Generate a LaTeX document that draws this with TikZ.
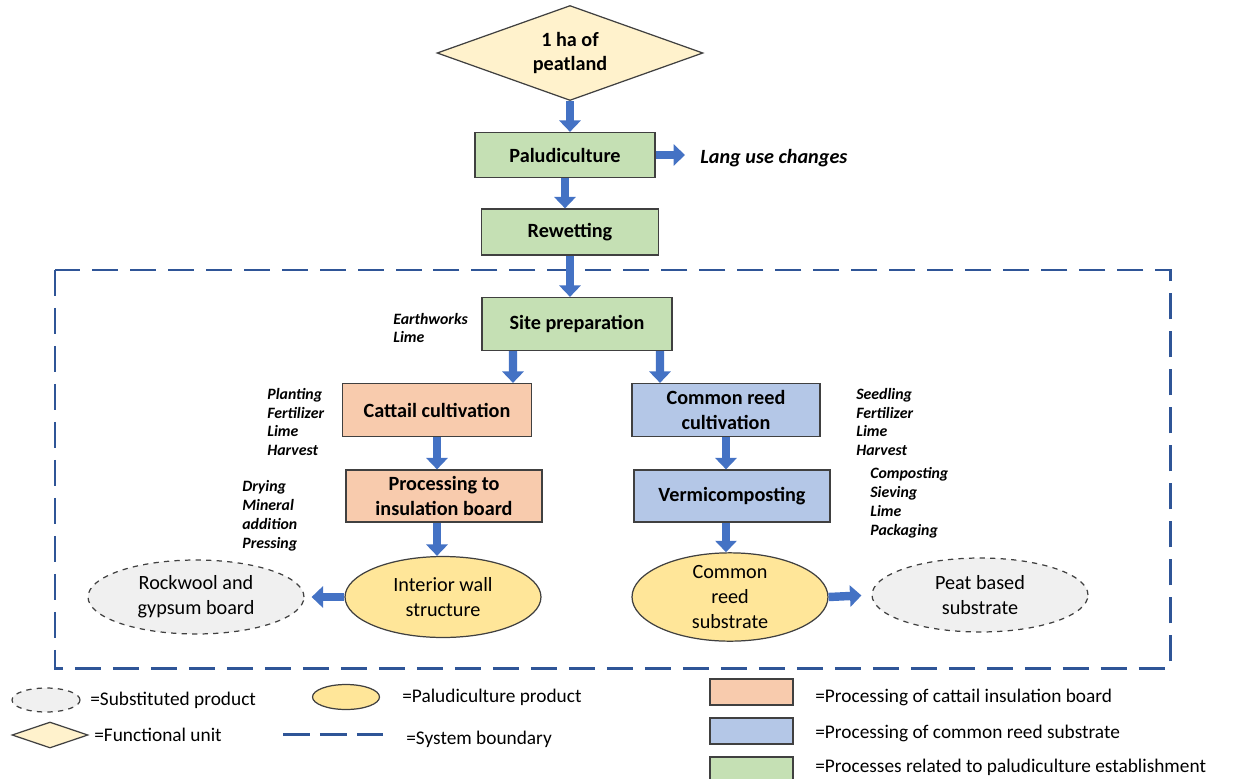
\documentclass[tikz,border=0pt]{standalone}
\usepackage{fontspec}
\setmainfont{Carlito}
\usetikzlibrary{shapes.geometric,arrows.meta}
\definecolor{palugreen}{HTML}{C5E0B4}
\definecolor{cattailorange}{HTML}{F8CBAD}
\definecolor{reedblue}{HTML}{B4C7E7}
\definecolor{prodyellow}{HTML}{FFE699}
\definecolor{unityellow}{HTML}{FFF2CC}
\definecolor{subgray}{HTML}{F0F0F0}
\definecolor{arrowblue}{HTML}{4472C4}
\definecolor{boundblue}{HTML}{2F5597}
\definecolor{edgegray}{HTML}{404040}
\begin{document}
\begin{tikzpicture}[x=0.02cm, y=-0.02cm,
  box node/.style={rectangle,draw=edgegray,line width=0.7pt,align=center,inner sep=0pt,font=\fontsize{11.5}{14}\selectfont\bfseries},
  prod node/.style={ellipse,draw=edgegray,line width=0.7pt,fill=prodyellow,align=center,inner sep=0pt,font=\fontsize{11.5}{14}\selectfont},
  sub node/.style={ellipse,draw=edgegray,line width=0.7pt,dashed,fill=subgray,align=center,inner sep=0pt,font=\fontsize{11.5}{14}\selectfont},
  side note/.style={anchor=west,align=left,inner sep=0pt,font=\fontsize{9}{10.8}\selectfont\bfseries\itshape},
  legend text/.style={anchor=west,inner sep=0pt,font=\fontsize{11}{13}\selectfont},
  flow/.style={draw=arrowblue,line width=4.8pt,-{Triangle[length=6.5pt,width=12pt]}},
  boundary/.style={draw=boundblue,line width=1.7pt,dash pattern=on 0.52cm off 0.24cm}]
\useasboundingbox (0,0) rectangle (1238,778);
% system boundary
\draw[boundary] (55,270) rectangle (1170,668);
\begin{scope}
\node[diamond,aspect=2.8,draw=edgegray,line width=0.7pt,fill=unityellow,minimum width=5.32cm,minimum height=1.9cm,inner sep=0pt,align=center,font=\fontsize{11.5}{14}\selectfont\bfseries] (unit) at (570,53) {1 ha of\\peatland};
\node[box node,fill=palugreen,minimum width=3.6cm,minimum height=0.9cm] (palu) at (565,155) {Paludiculture};
\node[anchor=west,inner sep=0pt,font=\fontsize{11.5}{14}\selectfont\bfseries\itshape] (landuse) at (700,158) {Lang use changes};
\node[box node,fill=palugreen,minimum width=3.54cm,minimum height=0.92cm] (rewet) at (570,232) {Rewetting};
\node[box node,fill=palugreen,minimum width=3.8cm,minimum height=1.06cm] (site) at (577,324) {Site preparation};
\node[box node,fill=cattailorange,minimum width=3.78cm,minimum height=1.06cm] (cattail) at (437,410) {Cattail cultivation};
\node[box node,fill=reedblue,minimum width=3.76cm,minimum height=1.06cm] (reed) at (726,410) {Common reed\\cultivation};
\node[box node,fill=cattailorange,minimum width=3.92cm,minimum height=1.04cm] (board) at (444,496) {Processing to\\insulation board};
\node[box node,fill=reedblue,minimum width=3.92cm,minimum height=1.04cm] (vermi) at (732,496) {Vermicomposting};
\node[prod node,minimum width=3.92cm,minimum height=1.62cm] (wall) at (443,597) {Interior wall\\structure};
\node[sub node,minimum width=4.32cm,minimum height=1.48cm] (rock) at (196,597) {Rockwool and\\gypsum board};
\node[prod node,minimum width=3.92cm,minimum height=1.64cm] (substrate) at (730,597) {Common\\reed\\substrate};
\node[sub node,minimum width=4.32cm,minimum height=1.48cm] (peat) at (980,595) {Peat based\\substrate};
\end{scope}
\begin{scope}
\node[side note] (siteinput) at (393,328) {Earthworks\\Lime};
\node[side note] (cattailinput) at (267,422) {Planting\\Fertilizer\\Lime\\Harvest};
\node[side note] (boardinput) at (242,516) {Drying\\Mineral\\addition\\Pressing};
\node[side note] (reedinput) at (856,422) {Seedling\\Fertilizer\\Lime\\Harvest};
\node[side note] (verminput) at (870,503) {Composting\\Sieving\\Lime\\Packaging};
\end{scope}
\begin{scope}
\draw[flow] (unit.south) -- (unit.south |- palu.north);
\draw[flow,shorten >=0.3cm] (palu.east) -- (palu.east -| landuse.west);
\draw[flow] (palu.south) -- (palu.south |- rewet.north);
\draw[flow] (rewet.south) -- (rewet.south |- site.north);
\draw[flow] ([xshift=-1.28cm]site.south) -- ([xshift=1.52cm]cattail.north);
\draw[flow] ([xshift=1.66cm]site.south) -- ([xshift=-1.32cm]reed.north);
\draw[flow] (cattail.south) -- (cattail.south |- board.north);
\draw[flow] (cattail.south |- board.south) -- (cattail.south |- wall.north);
\draw[flow] (reed.south) -- (reed.south |- vermi.north);
\draw[flow] (reed.south |- vermi.south) -- (reed.south |- substrate.north);
\draw[flow,shorten >=0.14cm] (wall.west) -- (rock.east);
\draw[flow,shorten >=0.2cm] (substrate.east) -- (peat.west);
\end{scope}
% legend
\begin{scope}
\node[sub node,minimum width=1.36cm,minimum height=0.48cm] (legsub) at (46,700) {};
\node[legend text] (legsubtext) at (90,700) {=Substituted product};
\node[prod node,minimum width=1.34cm,minimum height=0.5cm] (legprod) at (346,697) {};
\node[legend text] (legprodtext) at (402,697) {=Paludiculture product};
\node[diamond,aspect=2.9,draw=edgegray,line width=0.7pt,fill=unityellow,minimum width=1.52cm,minimum height=0.52cm,inner sep=0pt] (legunit) at (50,735) {};
\node[legend text] (legunittext) at (94,735) {=Functional unit};
\coordinate (legbounda) at (283,734);
\coordinate (legboundb) at (383,734);
\draw[boundary,dash pattern=on 0.54cm off 0.2cm] (legbounda) -- (legboundb);
\node[legend text] (legboundtext) at (406,739) {=System boundary};
\node[box node,fill=cattailorange,minimum width=1.66cm,minimum height=0.52cm] (legcattail) at (751.5,692) {};
\node[legend text] (legcattailtext) at (815,697) {=Processing of cattail insulation board};
\node[box node,fill=reedblue,minimum width=1.66cm,minimum height=0.52cm] (legreed) at (751.5,731) {};
\node[legend text] (legreedtext) at (815,733) {=Processing of common reed substrate};
\node[box node,fill=palugreen,minimum width=1.66cm,minimum height=0.52cm] (legpalu) at (751.5,770) {};
\node[legend text] (legpalutext) at (815,767) {=Processes related to paludiculture establishment};
\end{scope}
\end{tikzpicture}
\end{document}
